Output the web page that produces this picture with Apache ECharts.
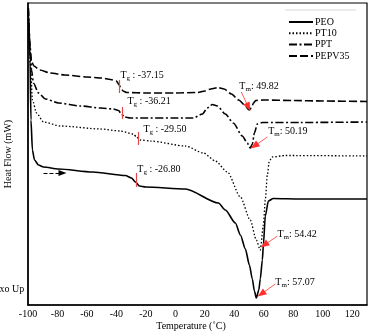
<!DOCTYPE html>
<html><head><meta charset="utf-8">
<script src="https://cdn.jsdelivr.net/npm/echarts@6/dist/echarts.min.js"></script>
<style>html,body{margin:0;padding:0;background:#fff}#c{width:370px;height:332px}</style>
</head><body><div id="c"></div>
<script>
// Temperatures (°C) and heat flow (arbitrary units, exo up)
const peoT  = [-99.8,-98.6,-98.0,-97.0,-95.6,-92.9,-89.5,-79.3,-56.3,-33.9,-29.8,-27.1,-24.4,-20.3,6.8,29.2,33.9,40.7,44.1,47.5,50.2,52.2,53.6,54.9,56.6,57.6,59.0,59.7,61.0,63.1,66.4,84.7,130];
const peoHF = [295,245,185,155,145,140,138,136,133,129.5,127,123,119,118,116,102,95,82,70,56,40,26,14,7,15,26,45,60,89,104,106.5,106,106];
const pt10T  = [-99.8,-98.3,-97.0,-94.2,-89.5,-78,-50.8,-37.3,-28.5,-26.4,-23.7,-17,6.8,19,27.1,35.3,44.1,50.8,54.9,57.6,59.7,61,62.4,63.7,65.8,74.6,130];
const pt10HF = [290,240,205,192,183,179,176,174,171,168,165,164,159,152,144,133,108,85,65,55,80,105,130,144,148,149.5,149];
const pptT  = [-99.8,-98.6,-97.6,-96.3,-92.9,-88.1,-79.3,-64.4,-50.8,-42,-38.6,-36.6,-34.6,-30.5,12.2,18.3,21.7,25.1,28.5,33.9,39.3,45.4,48.8,50.8,52.2,53.6,55.6,59,84.7,130];
const pptHF = [297,260,235,222,212,206,202,199,197,196,194.5,191,188,187,187,191,197,200.5,199,191,182,169,162,157,161,172,181,182.5,182.5,183];
const pepvT  = [-99.8,-99.3,-98.5,-97.5,-96,-92,-85,-75,-60,-50,-44,-40,-38.5,-37,-35.5,-33,-20,0,15,20,24,29,33,38,43,47,50,51.5,53,54.5,60,80,100,130];
const pepvHF = [297,275,253,243,239,235,232,230,228,227,225.5,224,221,217,214,212.5,212,212,212.5,214,216,217.5,216,211,205,200,195,197,202,204.5,205,204.5,204,203.5];

const seriesNames = ['PEO','PT10','PPT','PEPV35'];
const xTickMin = -100, xTickMax = 130, xTickStep = 20;

// annotations (top curve first): [subscript, value text, label T, label HF]
const tgLabels = [
  ['g',' : -37.15',-37.3,230],
  ['g',' : -36.21',-32.5,204],
  ['g',' : -29.50',-21.7,176],
  ['g',' : -26.80',-25.8,136]
];
const tmLabels = [
  ['m',': 49.82',43.4,219],
  ['m',': 50.19',63,174],
  ['m',': 54.42',69.2,71],
  ['m',': 57.07',67.8,23]
];
// Tg tick marks: [T, hf1, hf2]
const tgTicks = [[-38,225,212],[-36.3,198,186],[-25.1,173,160],[-26.4,132,118]];
// Tm arrows: [T1, hf1, T2, hf2]
const tmArrows = [[44.7,213,49.5,198],[62.4,168,53.6,159],[69.2,69,60.3,60],[67.8,21,58.3,11]];
const scanArrow = [-89.5,132,-76.6,132];

const zip = (a,b)=>a.map((v,i)=>[v,b[i]]);
const FF = '"Liberation Serif", "Times New Roman", serif';

const styles = [
  {type:'solid', width:1.6},
  {type:[1.5,2], width:1.3},
  {type:[8,2.5,2,2.5], width:1.6},
  {type:[8,3], width:1.6}
];
const datas = [zip(peoT,peoHF), zip(pt10T,pt10HF), zip(pptT,pptHF), zip(pepvT,pepvHF)];
const idx = [3,2,1,0];

const rich = {t:{fontSize:10,fontFamily:FF,color:'#000'}, s:{fontSize:7,fontFamily:FF,color:'#000',padding:[6,0,0,0]}};

const series = seriesNames.map((n,i)=>{
  const a = idx[i];
  const mlData = [
    [{coord:[tgTicks[a][0],tgTicks[a][1]], lineStyle:{color:'#e8474a',width:1.2,type:'solid'}, symbol:'none'},
     {coord:[tgTicks[a][0],tgTicks[a][2]], symbol:'none'}],
    [{coord:[tmArrows[a][0],tmArrows[a][1]], lineStyle:{color:'#ff3030',width:0.8,type:'solid'}, symbol:'none'},
     {coord:[tmArrows[a][2],tmArrows[a][3]], symbol:'triangle', symbolSize:[7,9]}]
  ];
  if (i===0) mlData.push([
    {coord:[scanArrow[0],scanArrow[1]], lineStyle:{color:'#000',width:1,type:[4,2]}, symbol:'none'},
    {coord:[scanArrow[2],scanArrow[3]], symbol:'triangle', symbolSize:[6,8]}
  ]);
  return {
    name:n, type:'line', data:datas[i], showSymbol:false, symbol:'none',
    smooth:0.25, smoothMonotone:'x',
    lineStyle:Object.assign({color:'#000'}, styles[i]), itemStyle:{color:'#000'},
    silent:true, animation:false, z:3,
    markLine:{silent:true, animation:false, symbol:['none','none'], label:{show:false}, data:mlData},
    markPoint:{silent:true, animation:false, symbol:'circle', symbolSize:0,
      data:[
        {coord:[tgLabels[a][2],tgLabels[a][3]], label:{formatter:'{t|T}{s|'+tgLabels[a][0]+'}{t|'+tgLabels[a][1]+'}'}},
        {coord:[tmLabels[a][2],tmLabels[a][3]], label:{formatter:'{t|T}{s|'+tmLabels[a][0]+'}{t|'+tmLabels[a][1]+'}'}}
      ],
      label:{show:true, position:'right', distance:0, rich:rich}
    }
  };
});

const chart = echarts.init(document.getElementById('c'), null, {renderer:'canvas'});
chart.setOption({
  animation:false,
  backgroundColor:'#fff',
  grid:{left:28, right:3, top:3, bottom:27, outerBoundsMode:'none', containLabel:false, show:true, borderColor:'#000', borderWidth:1.2},
  legend:{
    orient:'vertical', left:283, top:12, itemWidth:24, itemHeight:10, itemGap:1.3,
    selectedMode:false,
    itemStyle:{opacity:0, borderWidth:0},
    textStyle:{fontFamily:FF, fontSize:10, color:'#000', padding:[0,0,0,-3]},
    data:seriesNames
  },
  xAxis:{
    type:'value', min:xTickMin, max:xTickMax, interval:xTickStep,
    axisLine:{onZero:false, lineStyle:{color:'#000',width:1.5}}, axisTick:{show:false}, splitLine:{show:false},
    axisLabel:{fontFamily:FF, fontSize:10, color:'#000', margin:4, showMaxLabel:false}
  },
  yAxis:{
    type:'value', min:0, max:302,
    axisLine:{show:true, onZero:false, lineStyle:{color:'#000',width:1.5}}, axisTick:{show:false},
    axisLabel:{show:false}, splitLine:{show:false},
    name:'Heat Flow (mW)', nameLocation:'middle', nameGap:15,
    nameTextStyle:{fontFamily:FF, fontSize:10, color:'#000'}
  },
  graphic:[
    {type:'text', left:-5, top:284, style:{text:'exo Up', font:'10px '+FF, fill:'#000'}},
    {type:'text', x:191, y:326, style:{text:'Temperature (˚C)', font:'10px '+FF, fill:'#000', align:'center', verticalAlign:'middle'}},
    {type:'line', shape:{x1:285,y1:10,x2:356,y2:10}, style:{stroke:'#d8d8d8', lineWidth:1}}
  ],
  series:series
});
</script></body></html>
